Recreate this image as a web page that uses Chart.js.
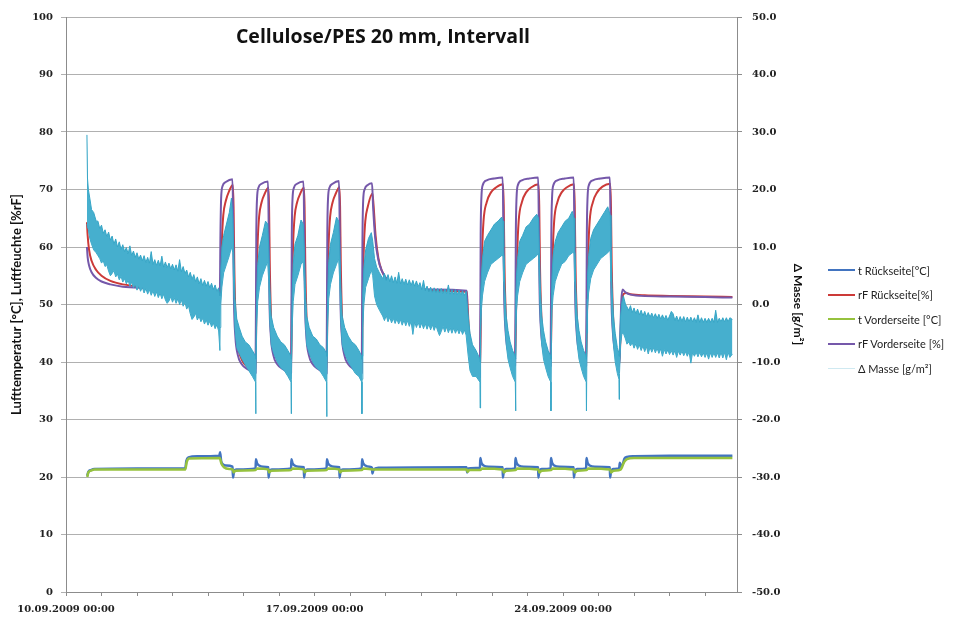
<!DOCTYPE html>
<html>
<head>
<meta charset="utf-8">
<script src="https://cdn.jsdelivr.net/npm/chart.js@4.4.1/dist/chart.umd.min.js"></script>
<style>
  body { margin: 0; background: #fff; }
  #wrap { position: relative; width: 961px; height: 622px; }
  #title { position: absolute; left: 0; width: 766px; top: 26px; text-align: center;
           font: bold 19.5px "Open Sans", sans-serif; color: #111; line-height: 20px; }
  #legend { position: absolute; left: 828px; top: 258px; font: 11px Lato, sans-serif; color: #222; }
  #legend .row { height: 24.5px; display: flex; align-items: center; white-space: nowrap; }
  #legend .swatch { width: 27px; height: 2px; margin-right: 3px; }
</style>
</head>
<body>
<div id="wrap">
  <canvas id="chart" width="961" height="622"></canvas>
  <div id="title">Cellulose/PES 20 mm, Intervall</div>
  <div id="legend"></div>
</div>
<script>
// x = days since 10.09.2009 00:00
const dateTicks = [0, 7, 14];
const dateLabels = ['10.09.2009 00:00', '17.09.2009 00:00', '24.09.2009 00:00'];

// rF Vorderseite [%]
const rfVorder = [[0.59,60.0],[0.61,58.2],[0.65,56.8],[0.72,55.6],[0.85,54.6],[1.0,54.0],[1.25,53.5],[1.6,53.1],[2.2,52.9],[3.0,52.8],[3.36,52.7],[3.42,51.0],[3.55,50.3],[4.0,50.0],[4.33,49.8],
  [4.35,62],[4.37,68.5],[4.41,70.6],[4.5,71.3],[4.69,71.8],[4.71,63],[4.73,51],[4.77,44.5],[4.84,41.2],[4.95,39.6],[5.1,38.8],[5.34,38.1],
  [5.36,62],[5.38,68.3],[5.42,70.3],[5.51,71.0],[5.69,71.4],[5.71,63],[5.73,51],[5.77,44.5],[5.84,41.2],[5.95,39.6],[6.1,38.8],[6.34,38.1],
  [6.36,62],[6.38,68.3],[6.42,70.3],[6.51,71.0],[6.69,71.4],[6.71,63],[6.73,51],[6.77,44.5],[6.84,41.2],[6.95,39.6],[7.1,38.8],[7.34,38.0],
  [7.36,62],[7.38,68.3],[7.42,70.3],[7.51,71.0],[7.69,71.5],[7.71,63],[7.73,51],[7.77,44.5],[7.84,41.2],[7.95,39.6],[8.1,38.8],[8.33,38.1],
  [8.35,61],[8.37,68],[8.41,70.0],[8.5,70.8],[8.62,71.1],[8.65,67],[8.71,61.5],[8.79,58],[8.9,55.8],[9.05,54.3],[9.3,53.3],[9.6,52.9],[10.3,52.6],[11.29,52.4],
  [11.31,47.5],[11.35,43.5],[11.43,40.5],[11.53,38.6],[11.66,37.4],
  [11.68,62],[11.70,68.5],[11.74,70.8],[11.85,71.6],[12.05,71.9],[12.30,72.1],[12.32,63],[12.34,52],[12.38,45.5],[12.45,42],[12.55,40.3],[12.65,39.4],
  [12.67,62],[12.69,68.5],[12.73,70.8],[12.84,71.6],[13.05,71.9],[13.30,72.1],[13.32,63],[13.34,52],[13.38,45.5],[13.45,42],[13.55,40.3],[13.65,39.3],
  [13.67,62],[13.69,68.5],[13.73,70.8],[13.84,71.6],[14.05,71.9],[14.30,72.1],[14.32,63],[14.34,52],[14.38,45.5],[14.45,42],[14.55,40.3],[14.65,39.3],
  [14.67,62],[14.69,68.5],[14.73,70.8],[14.84,71.6],[15.05,71.9],[15.32,72.1],[15.34,63],[15.36,52],[15.40,45.5],[15.46,42],[15.53,40],[15.58,39.2],
  [15.61,44],[15.64,50.5],[15.68,52.6],[15.74,52.2],[15.85,51.8],[16.2,51.5],[17.0,51.4],[18.0,51.3],[18.77,51.2]];

// rF Rückseite [%]
const rfRueck = [[0.59,64.3],[0.61,62.0],[0.65,59.5],[0.72,57.6],[0.85,56.0],[1.0,55.0],[1.25,54.1],[1.6,53.5],[2.2,53.1],[3.0,52.9],[3.36,52.8],[3.43,51.8],[3.6,50.6],[4.0,50.3],[4.33,50.1],
  [4.36,54],[4.39,61],[4.43,65.5],[4.5,68],[4.6,69.8],[4.70,70.8],[4.72,67],[4.74,57],[4.78,47],[4.85,42.5],[4.96,40.3],[5.1,39.2],[5.34,38.4],
  [5.37,54],[5.40,61],[5.44,65.3],[5.51,67.8],[5.6,69.3],[5.70,70.3],[5.72,67],[5.74,57],[5.78,47],[5.85,42.5],[5.96,40.3],[6.1,39.2],[6.34,38.4],
  [6.37,54],[6.40,61],[6.44,65.3],[6.51,67.8],[6.6,69.3],[6.70,70.3],[6.72,67],[6.74,57],[6.78,47],[6.85,42.5],[6.96,40.3],[7.1,39.2],[7.34,38.3],
  [7.37,54],[7.40,61],[7.44,65.3],[7.51,67.8],[7.6,69.3],[7.70,70.4],[7.72,67],[7.74,57],[7.78,47],[7.85,42.5],[7.96,40.3],[8.1,39.2],[8.33,38.4],
  [8.36,53],[8.39,60],[8.43,64.5],[8.5,67],[8.63,69.3],[8.66,67.5],[8.72,62],[8.8,58],[8.9,55.8],[9.05,54.2],[9.3,53.2],[9.6,52.7],[10.3,52.4],[11.29,52.2],
  [11.31,50],[11.35,45.5],[11.43,41.5],[11.53,39.2],[11.66,37.9],
  [11.69,50],[11.72,59],[11.76,64.5],[11.85,67.8],[11.97,69.5],[12.12,70.4],[12.31,70.9],[12.33,67],[12.35,57],[12.39,48],[12.46,43],[12.56,40.8],[12.65,39.8],
  [12.68,50],[12.71,59],[12.75,64.5],[12.84,67.8],[12.96,69.5],[13.11,70.4],[13.31,70.9],[13.33,67],[13.35,57],[13.39,48],[13.46,43],[13.56,40.8],[13.65,39.7],
  [13.68,50],[13.71,59],[13.75,64.5],[13.84,67.8],[13.96,69.5],[14.11,70.4],[14.31,70.9],[14.33,67],[14.35,57],[14.39,48],[14.46,43],[14.56,40.8],[14.65,39.7],
  [14.68,50],[14.71,59],[14.75,64.5],[14.84,67.8],[14.96,69.5],[15.11,70.5],[15.33,71.0],[15.35,67],[15.37,57],[15.41,48],[15.47,43],[15.53,40.6],[15.58,39.6],
  [15.61,43],[15.65,49.5],[15.70,51.8],[15.78,52.0],[15.9,51.8],[16.3,51.6],[17.0,51.5],[18.0,51.4],[18.77,51.3]];

// t Rückseite [°C]
const tRueck = [[0.60,20.2],[0.63,20.9],[0.7,21.2],[0.8,21.4],[2.0,21.5],[3.36,21.5],[3.39,22.8],[3.45,23.4],[3.7,23.6],[4.32,23.7],
  [4.34,24.3],[4.37,22.8],[4.42,22.2],[4.5,22.0],[4.69,21.8],[4.705,19.9],[4.73,20.9],[4.8,21.3],[5.34,21.5],
  [5.35,23.1],[5.38,22.4],[5.44,22.0],[5.55,21.8],[5.70,21.7],[5.705,19.9],[5.73,20.9],[5.8,21.3],[6.34,21.5],
  [6.35,23.1],[6.38,22.4],[6.44,22.0],[6.55,21.8],[6.70,21.7],[6.705,19.9],[6.73,20.9],[6.8,21.3],[7.34,21.5],
  [7.35,23.1],[7.38,22.4],[7.44,22.0],[7.55,21.8],[7.70,21.7],[7.705,19.9],[7.73,20.9],[7.8,21.3],[8.33,21.5],
  [8.34,23.1],[8.37,22.4],[8.43,22.0],[8.55,21.8],[8.62,21.6],[8.63,20.6],[8.66,21.2],[8.8,21.6],[11.28,21.7],[11.3,20.8],[11.33,21.5],[11.66,21.6],
  [11.67,23.3],[11.70,22.5],[11.76,22.0],[11.9,21.8],[12.30,21.7],[12.305,19.9],[12.33,20.9],[12.4,21.4],[12.65,21.5],
  [12.66,23.3],[12.69,22.5],[12.75,22.0],[12.9,21.8],[13.30,21.7],[13.305,19.9],[13.33,20.9],[13.4,21.4],[13.65,21.5],
  [13.66,23.3],[13.69,22.5],[13.75,22.0],[13.9,21.8],[14.30,21.7],[14.305,19.9],[14.33,20.9],[14.4,21.4],[14.65,21.5],
  [14.66,23.3],[14.69,22.5],[14.75,22.0],[14.9,21.8],[15.32,21.7],[15.325,19.9],[15.35,20.9],[15.42,21.4],[15.58,21.5],
  [15.6,22.5],[15.63,21.8],[15.68,22.2],[15.73,23.2],[15.8,23.5],[16.0,23.6],[17.0,23.7],[18.77,23.7]];

// t Vorderseite [°C]
const tVorder = [[0.60,20.0],[0.63,20.8],[0.7,21.1],[0.8,21.3],[3.36,21.3],[3.40,22.6],[3.47,23.2],[4.33,23.3],[4.38,22.3],[4.45,21.7],[4.6,21.4],
  [4.70,21.3],[4.72,20.8],[4.78,21.1],[5.34,21.2],[5.38,21.5],[5.70,21.3],[5.72,20.8],[5.78,21.1],[6.34,21.2],[6.38,21.5],
  [6.70,21.3],[6.72,20.8],[6.78,21.1],[7.34,21.2],[7.38,21.5],[7.70,21.3],[7.72,20.8],[7.78,21.1],[8.33,21.2],[8.38,21.5],
  [8.7,21.3],[11.29,21.3],[11.31,20.9],[11.36,21.2],[11.67,21.2],[11.72,21.5],[12.31,21.3],[12.33,20.8],[12.40,21.1],
  [12.66,21.2],[12.71,21.5],[13.31,21.3],[13.33,20.8],[13.40,21.1],[13.66,21.2],[13.71,21.5],[14.31,21.3],[14.33,20.8],[14.40,21.1],
  [14.66,21.2],[14.71,21.5],[15.33,21.3],[15.35,20.8],[15.42,21.1],[15.62,21.3],[15.72,22.6],[15.8,23.1],[16.0,23.3],[18.77,23.3]];

// Δ Masse [g/m²]: [day, upper edge, lower edge] of the noisy band
const masseBand = [[0.59,29.5,14.0],[0.605,22.0,13.5],[0.63,20.0,13.0],[0.67,18.5,11.5],[0.72,16.5,10.5],[0.78,16.0,9.5],[0.85,14.5,9.0],
  [0.9,14.5,8.5],[0.95,13.2,8.0],[1.0,13.8,7.2],[1.05,12.4,7.6],[1.1,13.0,6.6],[1.15,11.8,6.9],[1.2,12.6,5.8],[1.25,11.2,5.0],
  [1.3,11.9,5.4],[1.35,10.5,5.9],[1.4,11.4,4.8],[1.45,10.0,5.3],[1.5,10.9,4.3],[1.55,9.6,4.9],[1.6,10.4,3.9],[1.65,9.2,4.5],
  [1.7,9.9,3.6],[1.75,8.8,4.2],[1.8,10.2,3.2],[1.85,8.5,3.9],[1.9,9.3,2.9],[1.95,8.2,3.5],[2.0,9.0,2.5],[2.05,7.9,3.2],
  [2.1,8.6,2.3],[2.15,7.6,3.0],[2.2,8.5,2.0],[2.25,7.3,2.8],[2.3,8.2,1.8],[2.35,7.2,2.6],[2.4,9.2,1.6],[2.45,7.0,2.4],
  [2.5,7.8,1.4],[2.55,6.8,2.2],[2.6,7.7,1.2],[2.65,6.7,2.0],[2.7,8.4,1.0],[2.75,6.5,1.8],[2.8,7.4,0.8],[2.85,6.4,0.2],
  [2.9,7.2,0.6],[2.95,6.2,1.4],[3.0,7.0,0.4],[3.05,6.0,1.2],[3.1,6.9,0.2],[3.15,5.8,1.0],[3.2,7.8,0.0],[3.25,5.7,0.8],
  [3.3,6.6,-0.3],[3.35,5.4,0.4],[3.4,6.0,-0.8],[3.45,4.8,-0.2],[3.5,5.6,-1.6],[3.55,4.4,-2.6],[3.6,5.2,-2.2],[3.65,4.0,-1.5],
  [3.7,4.8,-2.7],[3.75,3.6,-2.0],[3.8,4.5,-3.0],[3.85,3.3,-2.4],[3.9,4.2,-3.4],[3.95,3.2,-2.7],[4.0,4.0,-3.6],[4.05,2.9,-2.9],
  [4.1,3.7,-3.9],[4.15,2.6,-3.2],[4.2,3.4,-4.2],[4.25,2.3,-3.5],[4.3,2.9,-4.6],[4.335,1.5,-8.0],[4.34,2.0,-4.0],
  [4.36,6,0],[4.39,10,3],[4.44,12,5.5],[4.52,14,7],[4.6,16,8.5],[4.66,18.5,10],[4.70,15,9],[4.73,8,1],[4.76,1,-4.5],
  [4.81,-2.5,-7.5],[4.88,-4,-8.5],[4.96,-5.5,-9.5],[5.05,-6.5,-10.5],[5.15,-7,-11.5],[5.25,-8,-12.5],[5.34,-9,-13.5],[5.345,-9.5,-19],[5.35,-9,-13],
  [5.37,2,-4],[5.40,7,0.5],[5.45,10,3],[5.53,12,5],[5.62,14.5,6.5],[5.68,14,7.5],[5.71,10,4],[5.74,3,-3],[5.78,-2,-7],
  [5.85,-4,-8.5],[5.95,-5.5,-10],[6.05,-6.5,-11],[6.15,-7,-11.5],[6.25,-8,-12.5],[6.34,-9,-13.5],[6.345,-9.5,-19],[6.35,-9,-13],
  [6.37,2,-4],[6.40,7,0.5],[6.45,10.5,3.5],[6.53,12,5],[6.62,14.7,7],[6.68,14,7.5],[6.71,10,4],[6.74,3,-3],[6.78,-2,-7],
  [6.85,-4,-8.5],[6.95,-5.5,-10],[7.05,-6,-11],[7.15,-7,-11.5],[7.25,-7.5,-12.5],[7.34,-8.5,-13.5],[7.345,-9,-19.5],[7.35,-9,-13],
  [7.37,2,-4],[7.40,7.5,1],[7.45,10.5,3.5],[7.53,12.5,5.5],[7.62,15.2,7],[7.68,14.5,8],[7.71,10,4],[7.74,3,-3],[7.78,-2,-7],
  [7.85,-4,-8.5],[7.95,-5.5,-10],[8.05,-6.5,-11],[8.15,-7,-12],[8.25,-8,-12.5],[8.33,-9,-13.5],[8.335,-9.5,-19],[8.34,-9,-13],
  [8.36,2,-4],[8.39,6.5,0],[8.44,9.5,3],[8.52,11.5,4.5],[8.6,12.5,6],[8.64,11,5],[8.69,8,1.5],[8.75,6.5,0],[8.83,5.5,-1],
  [8.92,4.5,-2],[8.97,5.4,-2.8],[9.02,4.2,-1.9],[9.07,5.2,-3.0],[9.12,4.0,-2.2],[9.17,5.0,-3.2],[9.22,3.8,-2.4],[9.27,4.8,-3.3],
  [9.32,3.7,-2.5],[9.37,5.6,-3.4],[9.42,3.6,-2.6],[9.47,4.5,-3.6],[9.52,3.5,-2.7],[9.57,4.4,-3.7],[9.62,3.4,-2.8],[9.67,4.3,-3.8],
  [9.72,3.3,-2.9],[9.77,4.2,-5.2],[9.82,3.2,-3.0],[9.87,4.1,-4.0],[9.92,3.1,-3.1],[9.97,3.8,-4.1],[10.02,2.6,-3.2],[10.07,4.2,-4.2],
  [10.12,2.4,-3.3],[10.17,3.2,-4.3],[10.22,2.2,-3.4],[10.27,3.0,-4.4],[10.32,2.1,-3.5],[10.37,2.9,-4.5],[10.42,2.0,-3.6],[10.47,2.8,-4.6],
  [10.52,2.0,-5.4],[10.57,2.8,-4.7],[10.62,1.9,-3.8],[10.67,2.7,-4.8],[10.72,1.9,-3.9],[10.77,3.4,-4.9],[10.82,1.8,-4.0],[10.87,2.6,-5.0],
  [10.92,1.8,-4.1],[10.97,2.6,-5.0],[11.02,1.7,-4.2],[11.07,2.5,-5.1],[11.12,1.7,-4.3],[11.17,2.4,-5.2],[11.22,1.6,-4.4],[11.27,2.3,-5.3],
  [11.33,-2,-9],[11.38,-5,-11.5],[11.45,-7,-12.5],[11.55,-8,-12.5],[11.66,-9.5,-13.5],[11.665,-10,-18],[11.67,-9.5,-13],
  [11.685,1,-5],[11.70,5,-1],[11.73,8,1.5],[11.79,11,4],[11.87,12,5.5],[11.97,13,7],[12.07,14,7.5],[12.17,14.5,8],[12.27,15.2,8.5],
  [12.31,14.5,8.5],[12.33,10,4],[12.36,3,-3],[12.40,-2,-7],[12.45,-4.5,-9.5],[12.51,-6.5,-11],[12.58,-8,-12.5],[12.655,-9,-13.5],[12.66,-9.5,-18.5],
  [12.675,1,-5],[12.69,5,-1],[12.72,8,1.5],[12.78,11,4],[12.86,12,5.5],[12.96,13.5,7],[13.06,14,7.5],[13.16,15,8],[13.26,15.7,8.5],
  [13.31,15,9],[13.33,10,4],[13.36,3,-3],[13.40,-2,-7],[13.45,-4.5,-9.5],[13.51,-6.5,-11],[13.58,-8,-12.5],[13.655,-9,-13.5],[13.66,-9.5,-18.5],
  [13.675,1,-5],[13.69,5,-1],[13.72,8.5,1.5],[13.78,11,4],[13.86,12.5,5.5],[13.96,13.5,7],[14.06,14.5,7.5],[14.16,15,8.5],[14.26,16.2,9],
  [14.31,15,9],[14.33,10,4],[14.36,3,-3],[14.40,-2,-7],[14.45,-4.5,-9.5],[14.51,-6.5,-11],[14.58,-8,-12.5],[14.655,-9,-13.5],[14.66,-9.5,-18.5],
  [14.675,1,-5],[14.69,5,-1],[14.72,8.5,2],[14.78,11.5,4.5],[14.86,13,6],[14.96,14,7],[15.06,15,8],[15.16,16,8.5],[15.26,17,9],
  [15.33,15.5,9.5],[15.35,10,4],[15.38,3,-3],[15.42,-2,-7],[15.47,-5,-10],[15.53,-7.5,-12],[15.575,-8.5,-13],[15.58,-9,-16.5],[15.59,-8,-12],
  [15.62,-2,-7],[15.66,0.5,-5],[15.70,1.5,-5],[15.76,0,-6],[15.8,-0.4,-6.9],[15.85,-1,-6.5],[15.9,-0.2,-7.2],[15.95,-1.4,-6.6],
  [16.0,-0.6,-7.6],[16.05,-1.6,-6.8],[16.1,-0.8,-7.8],[16.15,-1.8,-7.0],[16.2,-1.0,-8.0],[16.25,-2.0,-7.2],[16.3,-1.2,-8.2],[16.35,-2.1,-7.3],
  [16.4,-1.4,-8.6],[16.45,-2.2,-7.4],[16.5,-1.5,-8.3],[16.55,-2.3,-7.5],[16.6,-1.6,-8.4],[16.65,-2.4,-7.6],[16.7,-1.7,-8.5],[16.75,-2.5,-7.7],
  [16.8,-1.8,-9.0],[16.85,-2.6,-7.8],[16.9,-1.9,-8.6],[16.95,-2.7,-7.9],[17.0,-2.0,-8.7],[17.05,-1.2,-8.0],[17.1,-1.6,-8.8],[17.15,-2.8,-8.0],
  [17.2,-2.0,-9.2],[17.25,-2.9,-8.1],[17.3,-2.1,-8.8],[17.35,-2.9,-8.1],[17.4,-2.1,-8.9],[17.45,-3.0,-8.2],[17.5,-2.2,-9.0],[17.55,-3.0,-8.2],
  [17.6,-2.2,-10.2],[17.65,-3.0,-8.3],[17.7,-2.3,-9.0],[17.75,-3.1,-8.3],[17.8,-1.8,-9.1],[17.85,-3.1,-8.3],[17.9,-2.3,-9.1],[17.95,-3.1,-8.4],
  [18.0,-2.4,-9.2],[18.05,-3.1,-8.4],[18.1,-2.4,-9.5],[18.15,-3.1,-8.4],[18.2,-2.4,-9.2],[18.25,-3.1,-8.4],[18.3,-1.0,-9.2],[18.35,-3.1,-8.4],
  [18.4,-2.4,-9.3],[18.45,-3.0,-8.3],[18.5,-2.3,-9.3],[18.55,-3.0,-8.3],[18.6,-2.3,-9.6],[18.65,-3.0,-8.3],[18.7,-2.3,-9.2],[18.77,-2.6,-8.6]];

const toPts = arr => arr.map(([x, y]) => ({x, y}));
const tickFont = {family: 'DejaVu Serif', size: 10, weight: 'bold'};
const gridGray = '#b0b0b0';
const axisGray = '#8c8c8c';

const datasets = [
  {
    label: 'Δ Masse [g/m²]',
    data: masseBand.map(r => ({x: r[0], y: r[1]})),
    yAxisID: 'y1',
    borderColor: '#35a5c6',
    backgroundColor: 'rgb(70,175,206)',
    borderWidth: 1,
    tension: 0,
    fill: '+1',
    order: 0,
  },
  {
    label: 'Δ Masse unten',
    data: masseBand.map(r => ({x: r[0], y: r[2]})),
    yAxisID: 'y1',
    borderColor: '#35a5c6',
    borderWidth: 1,
    tension: 0,
    fill: false,
    order: 1,
  },
  {
    label: 'rF Vorderseite [%]',
    data: toPts(rfVorder),
    yAxisID: 'y',
    borderColor: '#7558aa',
    borderWidth: 2,
    cubicInterpolationMode: 'monotone',
    order: 2,
  },
  {
    label: 't Vorderseite [°C]',
    data: toPts(tVorder),
    yAxisID: 'y',
    borderColor: '#96c23e',
    borderWidth: 2.5,
    cubicInterpolationMode: 'monotone',
    order: 3,
  },
  {
    label: 'rF Rückseite[%]',
    data: toPts(rfRueck),
    yAxisID: 'y',
    borderColor: '#cc3a38',
    borderWidth: 2,
    cubicInterpolationMode: 'monotone',
    order: 4,
  },
  {
    label: 't Rückseite[°C]',
    data: toPts(tRueck),
    yAxisID: 'y',
    borderColor: '#4274c0',
    borderWidth: 2.5,
    cubicInterpolationMode: 'monotone',
    order: 5,
  },
];

const config = {
  type: 'line',
  data: {datasets},
  options: {
    responsive: false,
    animation: false,
    events: [],
    elements: {point: {radius: 0}, line: {borderJoinStyle: 'round'}},
    layout: {padding: {left: 0, top: 17, right: 152, bottom: 0}},
    scales: {
      x: {
        type: 'linear',
        min: 0,
        max: 18.9,
        afterFit: s => { s.height = 30; },
        border: {color: axisGray},
        grid: {drawOnChartArea: false, drawTicks: true, tickLength: 4, color: axisGray},
        ticks: {
          stepSize: 1,
          autoSkip: false,
          maxRotation: 0,
          includeBounds: false,
          padding: 7,
          color: '#222',
          font: tickFont,
          callback: function (value) {
            const i = dateTicks.indexOf(value);
            return i >= 0 ? dateLabels[i] : '';
          },
        },
      },
      y: {
        position: 'left',
        min: 0,
        max: 100,
        afterFit: s => { s.width = 66; },
        border: {color: axisGray},
        grid: {color: gridGray, tickLength: 5},
        ticks: {stepSize: 10, padding: 8, color: '#222', font: tickFont},
        title: {
          display: true,
          text: 'Lufttemperatur [°C], Luftfeuchte [%rF]',
          color: '#111',
          font: {family: 'Lato', size: 13, weight: 'bold'},
          padding: {top: 9, bottom: 0},
        },
      },
      y1: {
        position: 'right',
        min: -50,
        max: 50,
        afterFit: s => { s.width = 72; },
        border: {color: axisGray},
        grid: {drawOnChartArea: false, color: axisGray, tickLength: 5},
        ticks: {
          stepSize: 10,
          padding: 10,
          color: '#222',
          font: tickFont,
          callback: v => v.toFixed(1),
        },
        title: {
          display: true,
          text: 'Δ Masse [g/m²]',
          color: '#111',
          font: {family: 'Lato', size: 12, weight: 'bold'},
          padding: {top: 4, bottom: 0},
        },
      },
    },
    plugins: {
      legend: {display: false},
      tooltip: {enabled: false},
    },
  },
};

const myChart = new Chart(document.getElementById('chart'), config);

// legend on the right, in the same order as the original
const legendOrder = ['t Rückseite[°C]', 'rF Rückseite[%]', 't Vorderseite [°C]', 'rF Vorderseite [%]', 'Δ Masse [g/m²]'];
const legendEl = document.getElementById('legend');
legendOrder.forEach(name => {
  const ds = datasets.find(d => d.label === name);
  const row = document.createElement('div');
  row.className = 'row';
  const sw = document.createElement('span');
  sw.className = 'swatch';
  sw.style.background = name.startsWith('Δ') ? '#cfe9f1' : ds.borderColor;
  if (name.startsWith('Δ')) sw.style.height = '1px';
  const txt = document.createElement('span');
  txt.textContent = name;
  row.appendChild(sw);
  row.appendChild(txt);
  legendEl.appendChild(row);
});
</script>
</body>
</html>
